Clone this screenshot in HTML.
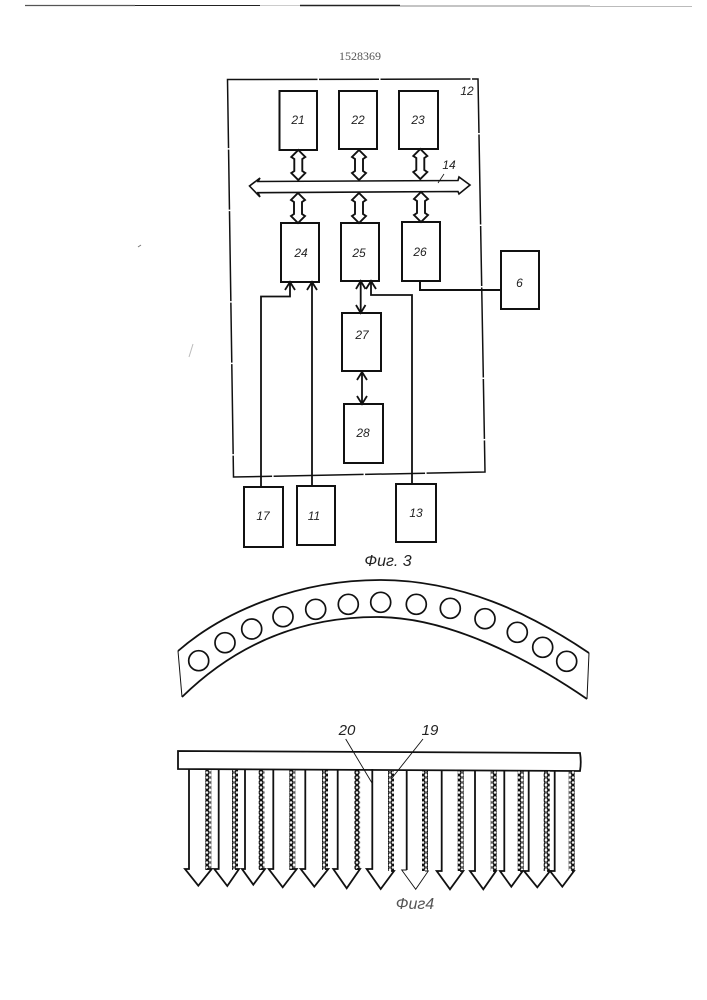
<!DOCTYPE html>
<html><head><meta charset="utf-8"><style>
html,body{margin:0;padding:0;background:#fff}
svg{display:block}
text{font-family:"Liberation Sans",sans-serif;font-style:italic;fill:#222;text-anchor:middle}
</style></head><body>
<svg width="707" height="1000" viewBox="0 0 707 1000" xmlns="http://www.w3.org/2000/svg">
<defs>
<pattern id="b" width="6" height="5" patternUnits="userSpaceOnUse">
<circle cx="3" cy="2.5" r="2" fill="#eee" stroke="#111" stroke-width="1.5"/>
</pattern>
<g id="d"><path d="M0 0L7 7L4 9V21L7 23L0 30L-7 23L-4 21V9L-7 7Z" fill="#fff" stroke="#111" stroke-width="1.9"/></g>
</defs>
<rect width="707" height="1000" fill="#fff"/>
<path d="M25 5.500H135" stroke="#555" stroke-width="1.300"/>
<path d="M135 5.500H260" stroke="#222" stroke-width="1"/>
<path d="M260 5.500H300" stroke="#ccc" stroke-width="1"/>
<path d="M300 5.500H400" stroke="#222" stroke-width="1.400"/>
<path d="M400 6H590" stroke="#888" stroke-width="1"/>
<path d="M590 6.500H692" stroke="#bbb" stroke-width="1"/>
<text x="360" y="60" font-size="12" style="font-family:'Liberation Serif',serif;font-style:normal;fill:#555">1528369</text>

<g fill="none" stroke="#111">
<path d="M227.500 79.500L478 79L485 472L233.500 477Z" stroke-width="1.500" stroke-dasharray="90 1.500 60 1.500"/>
<g stroke-width="2" fill="#fff">
<rect x="279.500" y="91" width="37.500" height="59"/>
<rect x="339" y="91" width="38" height="58"/>
<rect x="399" y="91" width="39" height="58"/>
<rect x="281" y="223" width="38" height="59"/>
<rect x="341" y="223" width="38" height="58"/>
<rect x="402" y="222" width="38" height="59"/>
<rect x="501" y="251" width="38" height="58"/>
<rect x="342" y="313" width="39" height="58"/>
<rect x="344" y="404" width="39" height="59"/>
<rect x="244" y="487" width="39" height="60"/>
<rect x="297" y="486" width="38" height="59"/>
<rect x="396" y="484" width="40" height="58"/>
</g>
<path d="M260 178L249.500 186L260 197L258 192.700L458 191.500L459 194L470 185L459 177L458 180.500L258 181.500Z" stroke-width="1.600" fill="#fff"/>
<use href="#d" x="298.300" y="150"/><use href="#d" x="359" y="150"/><use href="#d" x="420.300" y="149"/>
<use href="#d" x="298" y="193"/><use href="#d" x="359" y="193"/><use href="#d" x="421" y="192"/>
<g stroke-width="1.800">
<path d="M261 487V296.500H290V282M285 290L290 282L295 290"/>
<path d="M312 486V282M307 290L312 282L317 290"/>
<path d="M412 484V295H371V281M366 289L371 281L376 289"/>
<path d="M360.700 282V313M356 289L360.700 281L365.500 289M356 305L360.700 313L365.500 305"/>
<path d="M362 372V404M357 380L362 372L367 380M357 396L362 404L367 396"/>
<path d="M420 281V290H501" stroke-width="2"/>
</g>
<path d="M444 174L438 183" stroke-width="0.800"/>

<path d="M178 651C225 610 300 580 380 580C460 580 530 613 589 653" stroke-width="1.800"/>
<path d="M182 697C235 645 300 617 377 617C450 617 530 660 587 699" stroke-width="1.800"/>
<path d="M178 651L182 697M589 653L587 699" stroke-width="1"/>
<g stroke-width="1.700">
<circle cx="198.700" cy="660.700" r="10"/><circle cx="225" cy="642.700" r="10"/><circle cx="251.700" cy="629" r="10"/>
<circle cx="283" cy="616.700" r="10"/><circle cx="315.700" cy="609.300" r="10"/><circle cx="348.300" cy="604.300" r="10"/>
<circle cx="380.700" cy="602.300" r="10"/><circle cx="416.300" cy="604.300" r="10"/><circle cx="450.300" cy="608.300" r="10"/>
<circle cx="485" cy="618.700" r="10"/><circle cx="517.300" cy="632.300" r="10"/><circle cx="542.700" cy="647.300" r="10"/>
<circle cx="566.700" cy="661.300" r="10"/>
</g>

<path d="M178 751L580 753Q581.500 762 580 771L178 769Z" stroke-width="1.800" fill="#fff"/>
</g>

<!-- beads -->
<g fill="url(#b)">
<rect x="205.300" y="770" width="6" height="100"/><rect x="232" y="770" width="6" height="100"/>
<rect x="258.700" y="770" width="6" height="100"/><rect x="289.300" y="770" width="6" height="100"/>
<rect x="322" y="770" width="6" height="100"/><rect x="354.300" y="770" width="6" height="100"/>
<rect x="388" y="771" width="6" height="100"/><rect x="422" y="771" width="6" height="100"/>
<rect x="457.700" y="771" width="6" height="100"/><rect x="490.700" y="771" width="6" height="100"/>
<rect x="517.700" y="771" width="6" height="100"/><rect x="543.700" y="771" width="6" height="100"/>
<rect x="568.700" y="771" width="6" height="100"/>
</g>
<g fill="none" stroke="#111" stroke-width="1.800" stroke-linejoin="miter">
<path d="M189 769V869H185L198.300 885.700L211.700 869H207"/>
<path d="M218.700 769V869H214.300L227.300 886L239 869H235"/>
<path d="M245 769V869H242L253.300 884.700L265 869H261"/>
<path d="M273.300 769V869H268.700L282.700 887.300L296.700 869H292"/>
<path d="M305.300 769V869H300.700L314.300 886.700L328.300 869H325"/>
<path d="M337.700 769V869H333.300L346.700 888.300L360 869H357"/>
<path d="M372.300 769V869H366.700L380.700 889L394 871H391"/>
<path d="M406.700 771V870" />
<path d="M406.700 870H401.700L415.700 889.300L428.300 871H425" stroke-width="0.900"/>
<path d="M441.700 771V871H436.700L450 889.300L463.300 871H460"/>
<path d="M475 771V871H470L483.300 889.300L496 871H493"/>
<path d="M504.300 771V871H500L511.300 886.700L522.700 871H520"/>
<path d="M528.700 771V871H524L537.300 887.300L550 871H547"/>
<path d="M554.700 771V871H550L562.300 886.700L574 871H572"/>
<path d="M345.700 739L372 783" stroke-width="0.900"/>
<path d="M423 739L392 778" stroke-width="0.900"/>
</g>

<g font-size="12">
<text x="298" y="124">21</text><text x="358" y="124">22</text><text x="418" y="124">23</text>
<text x="301" y="257">24</text><text x="359" y="257">25</text><text x="420" y="256">26</text>
<text x="519.500" y="287">6</text><text x="362" y="339">27</text><text x="363" y="437">28</text>
<text x="263" y="520">17</text><text x="314" y="520">11</text><text x="416" y="517">13</text>
<text x="467" y="95">12</text><text x="449" y="169">14</text>
<text x="347" y="735" font-size="15">20</text><text x="430" y="735" font-size="15">19</text>
</g>
<text x="388" y="566" font-size="16">Фиг. 3</text>
<text x="415" y="909" font-size="16" style="fill:#555">Фиг4</text>
<path d="M193 344L189 357" stroke="#bbb" stroke-width="1"/>
<path d="M138 247L141 245" stroke="#777" stroke-width="1"/>
</svg>
</body></html>
